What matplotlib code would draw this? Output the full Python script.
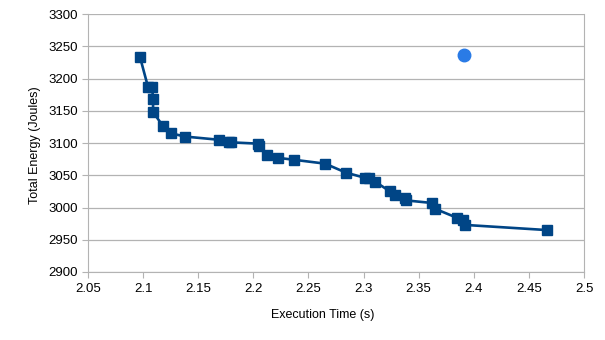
import matplotlib
matplotlib.use("Agg")
import matplotlib.pyplot as plt

plt.rcParams['font.family'] = ['Liberation Sans', 'DejaVu Sans']

# pareto front (execution time s, total energy J)
exec_time = [2.0972, 2.1044, 2.1081, 2.1090, 2.1090, 2.1181, 2.1253, 2.1380,
             2.1689, 2.1779, 2.1798, 2.2043, 2.2052, 2.2124, 2.2224, 2.2369,
             2.2651, 2.2841, 2.3014, 2.3050, 2.3104, 2.3240, 2.3286, 2.3377,
             2.3386, 2.3622, 2.3649, 2.3848, 2.3903, 2.3921, 2.4665]
energy = [3233, 3187, 3187, 3169, 3148, 3126, 3115, 3110,
          3105, 3102, 3101, 3099, 3096, 3082, 3077, 3074,
          3068, 3054, 3046, 3045, 3040, 3025, 3020, 3014,
          3011, 3007, 2998, 2984, 2981, 2973, 2965]

# single baseline point
base_time = [2.3912]
base_energy = [3237]

xticks = [2.05, 2.1, 2.15, 2.2, 2.25, 2.3, 2.35, 2.4, 2.45, 2.5]
xticklabels = ['2.05', '2.1', '2.15', '2.2', '2.25', '2.3', '2.35', '2.4', '2.45', '2.5']
yticks = [2900, 2950, 3000, 3050, 3100, 3150, 3200, 3250, 3300]

fig = plt.figure(figsize=(6.05, 3.4), dpi=100)
ax = fig.add_axes([0.1455, 0.2, 0.8198, 0.7588])

ax.plot(exec_time, energy, color='#004586', linewidth=1.9, marker='s',
        markersize=7.5, zorder=3)
ax.plot(base_time, base_energy, linestyle='none', marker='o', color='#2a7be6',
        markersize=9, zorder=3)

ax.set_xlim(2.05, 2.5)
ax.set_ylim(2900, 3300)
ax.set_xticks(xticks)
ax.set_xticklabels(xticklabels)
ax.set_yticks(yticks)
ax.yaxis.grid(True, color='#b3b3b3', linewidth=0.9)
ax.set_axisbelow(True)

for s in ['left', 'bottom', 'right']:
    ax.spines[s].set_color('#b3b3b3')
ax.spines['top'].set_visible(False)
ax.tick_params(axis='both', colors='#b3b3b3', labelcolor='black', labelsize=9.5,
               length=4, direction='out')
ax.tick_params(axis='x', pad=4)
ax.tick_params(right=False)

ax.set_xlabel('Execution Time (s)', fontsize=9)
ax.xaxis.set_label_coords(0.474, -0.143)
ax.set_ylabel('Total Energy (Joules)', fontsize=9)
ax.yaxis.set_label_coords(-0.095, 0.49)

fig.savefig('out.png', dpi=100)
